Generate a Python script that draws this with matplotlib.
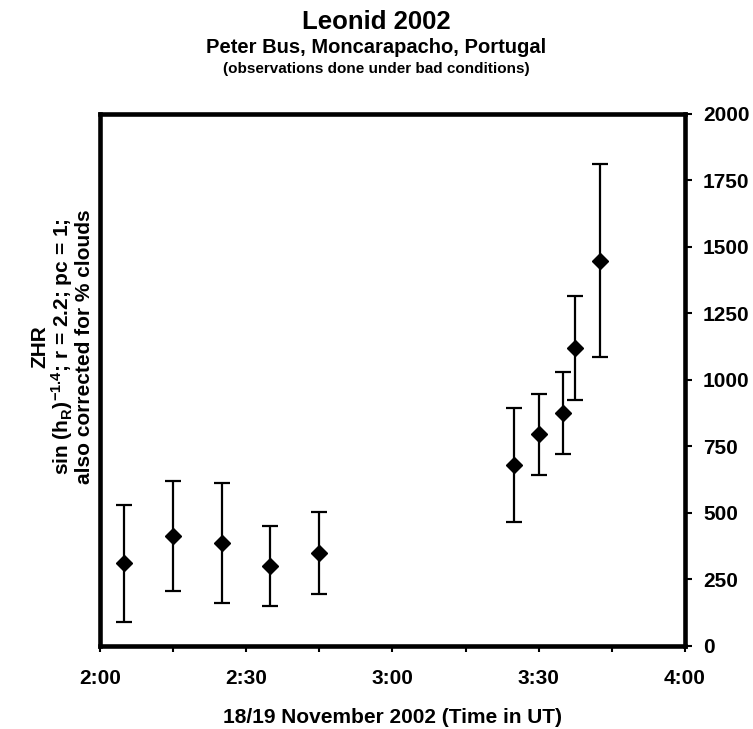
import numpy as np
import matplotlib
matplotlib.use("Agg")
import matplotlib.pyplot as plt
from matplotlib.ticker import MultipleLocator

plt.rcParams['font.family'] = ['Liberation Sans', 'DejaVu Sans']
plt.rcParams['font.weight'] = 'bold'
plt.rcParams['mathtext.fontset'] = 'custom'
plt.rcParams['mathtext.rm'] = 'Liberation Sans:bold'
plt.rcParams['mathtext.default'] = 'rm'

# minutes after 2:00 UT
minutes = [5, 15, 25, 35, 45, 85, 90, 95, 97.5, 102.5]
zhr = [309, 412, 386, 300, 349, 679, 794, 875, 1120, 1447]
zhr_err = [220, 207, 227, 150, 155, 214, 151, 153, 195, 362]

x_ticks = [0, 30, 60, 90, 120]
x_ticklabels = ['2:00', '2:30', '3:00', '3:30', '4:00']

fig = plt.figure(figsize=(7.53, 7.29), dpi=100)
ax = fig.add_axes([0.1324, 0.1143, 0.7773, 0.7300])

ax.errorbar(minutes, zhr, yerr=zhr_err, fmt='D', color='black',
            markersize=8, elinewidth=1.6, capsize=5.5, capthick=1.6)

ax.set_xlim(0, 120)
ax.set_ylim(0, 2000)
ax.set_xticks(x_ticks)
ax.set_xticklabels(x_ticklabels)
ax.xaxis.set_minor_locator(MultipleLocator(15))
ax.yaxis.set_major_locator(MultipleLocator(250))
ax.yaxis.tick_right()

for s in ax.spines.values():
    s.set_linewidth(3.3)

ax.tick_params(axis='x', which='both', direction='out', length=4, width=1.5,
               labelsize=15, pad=13)
ax.tick_params(axis='y', direction='out', length=5, width=1.5,
               labelsize=15, pad=8)
for lab in ax.get_xticklabels() + ax.get_yticklabels():
    lab.set_fontweight('bold')

ax.set_xlabel('18/19 November 2002 (Time in UT)', fontsize=15,
              fontweight='bold', labelpad=14)

# titles
fig.text(0.5, 0.970, 'Leonid 2002', ha='center', va='center',
         fontsize=18.5, fontweight='bold')
fig.text(0.5, 0.935, 'Peter Bus, Moncarapacho, Portugal', ha='center',
         va='center', fontsize=14.5, fontweight='bold')
fig.text(0.5, 0.906, '(observations done under bad conditions)', ha='center',
         va='center', fontsize=11, fontweight='bold')

# y axis title, three lines
fig.text(0.053, 0.525, 'ZHR', rotation=90, ha='center', va='center',
         fontsize=15, fontweight='bold')
fig.text(0.083, 0.525, r'sin (h$_{R}$)$^{-1.4}$; r = 2.2; pc = 1;', rotation=90,
         ha='center', va='center', fontsize=15, fontweight='bold')
fig.text(0.112, 0.525, 'also corrected for % clouds', rotation=90,
         ha='center', va='center', fontsize=15, fontweight='bold')

fig.savefig('out.png', dpi=100)
